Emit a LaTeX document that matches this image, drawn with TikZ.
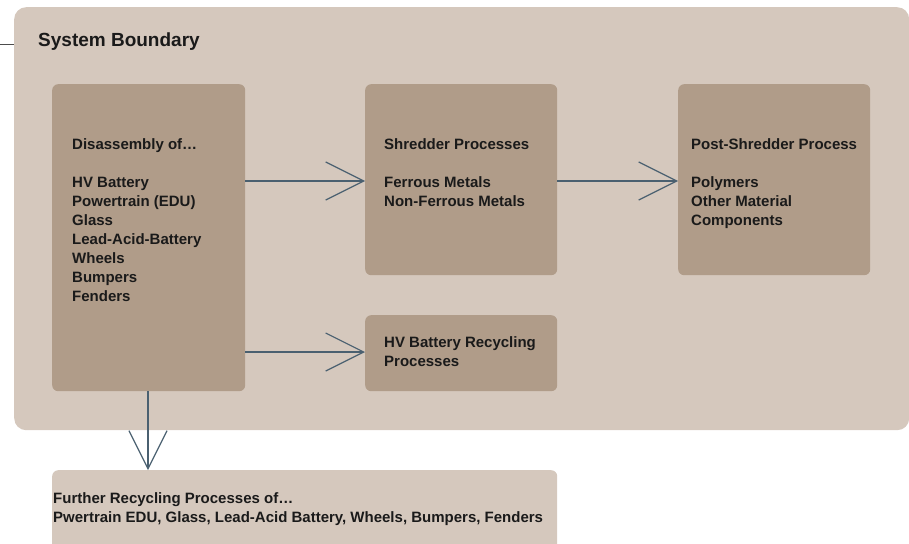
\documentclass[tikz,border=0pt]{standalone}
\usepackage{fontspec}
\setmainfont{Liberation Sans}
\usetikzlibrary{arrows.meta}
\definecolor{boundfill}{HTML}{D5C8BD}
\definecolor{procfill}{HTML}{B09C89}
\definecolor{arrowcol}{HTML}{4A6070}
\definecolor{inkcol}{HTML}{1A1A1A}
\begin{document}
\begin{tikzpicture}[x=1pt,y=-1pt,
	proc/.style={fill=procfill, draw=none, rounded corners=6pt, anchor=north west, inner sep=0},
	txt/.style={anchor=north west, inner sep=0, align=left, text=inkcol, font=\bfseries\fontsize{15}{19}\selectfont},
	flow/.style={draw=arrowcol, line width=1.2pt, -{Straight Barb[length=38pt, width=38pt, line width=1.2pt]}}]
	
	\clip (0,0) rectangle (909,543);
	
	% boundary
	\node[fill=boundfill, rounded corners=12pt, anchor=north west, inner sep=0, minimum width=895pt, minimum height=423pt] (sys) at (14,7) {};
	\coordinate (tick) at (0,44);
	\draw[black!70, line width=0.8pt] (tick) -- (sys.west |- tick);
	\node[anchor=base west, inner sep=0, text=inkcol, font=\bfseries\fontsize{19}{22}\selectfont] (systitle) at (38,46) {System Boundary};
	
	\node[proc, minimum width=193pt, minimum height=307pt] (dis) at (52,84) {};
	\node[proc, minimum width=192pt, minimum height=191pt] (shred) at (365,84) {};
	\node[proc, minimum width=192pt, minimum height=191pt] (post) at (678,84) {};
	\node[proc, minimum width=192pt, minimum height=76pt] (hvb) at (365,315) {};
	\node[fill=boundfill, rounded corners=6pt, anchor=north west, inner sep=0, minimum width=505pt, minimum height=90pt] (further) at (52,470) {};
	
	\node[txt] (distxt) at (72,138.5) {Disassembly of…\\[19pt]HV Battery\\Powertrain (EDU)\\Glass\\Lead-Acid-Battery\\Wheels\\Bumpers\\Fenders};
	\node[txt] (shredtxt) at (384,138.5) {Shredder Processes\\[19pt]Ferrous Metals\\Non-Ferrous Metals};
	\node[txt] (posttxt) at (691,138.5) {Post-Shredder Process\\[19pt]Polymers\\Other Material\\Components};
	\node[txt] (hvbtxt) at (384,336.5) {HV Battery Recycling\\Processes};
	\node[txt] (furthertxt) at (53,492.5) {Further Recycling Processes of…\\Pwertrain EDU, Glass, Lead-Acid Battery, Wheels, Bumpers, Fenders};
	
	\path[flow] (dis.east |- 0,181) -- (shred.west |- 0,181);
	\path[flow] (shred.east |- 0,181) -- (post.west |- 0,181);
	\path[flow] (dis.east |- 0,352) -- (hvb.west |- 0,352);
	\path[flow] (dis.south -| 148,0) -- (further.north -| 148,0);
	
\end{tikzpicture}
\end{document}
